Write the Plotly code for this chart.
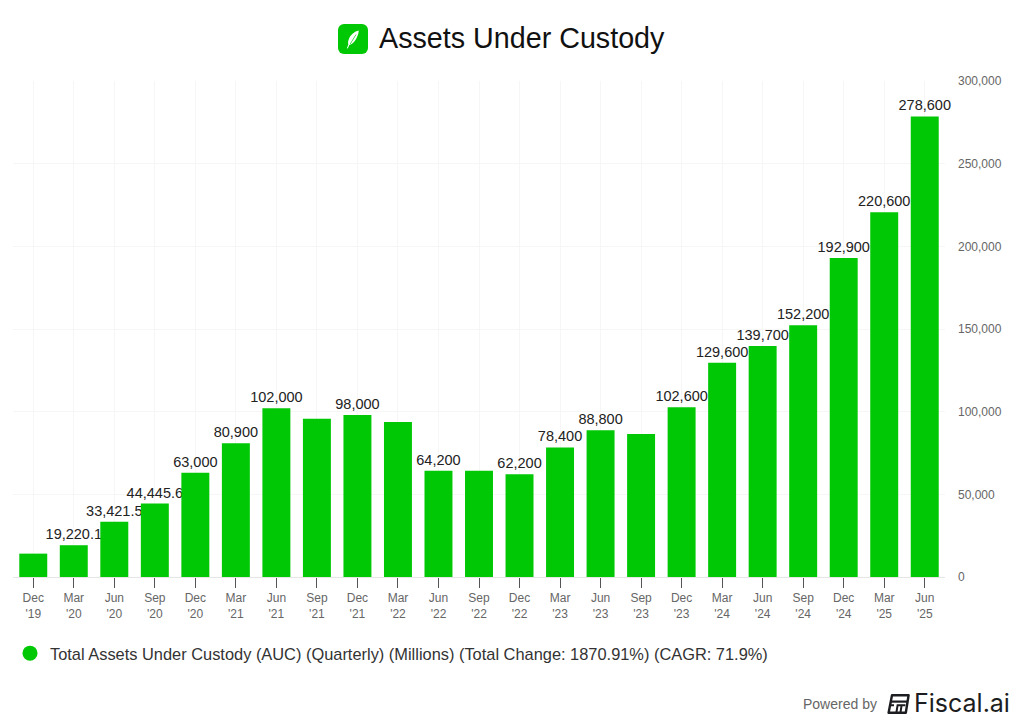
import base64
import plotly.graph_objects as go

OFF = 8  # browser page margin around the figure
W, H = 1024 - 2 * OFF, 725 - 2 * OFF
L, R, T, B = 13, 945, 81, 577

categories = ["Dec<br>'19", "Mar<br>'20", "Jun<br>'20", "Sep<br>'20", "Dec<br>'20", "Mar<br>'21", "Jun<br>'21", "Sep<br>'21",
              "Dec<br>'21", "Mar<br>'22", "Jun<br>'22", "Sep<br>'22", "Dec<br>'22", "Mar<br>'23", "Jun<br>'23", "Sep<br>'23",
              "Dec<br>'23", "Mar<br>'24", "Jun<br>'24", "Sep<br>'24", "Dec<br>'24", "Mar<br>'25", "Jun<br>'25"]
auc_values = [14136, 19220.1, 33421.5, 44445.6, 63000, 80900, 102000, 95700,
              98000, 93700, 64200, 64300, 62200, 78400, 88800, 86500,
              102600, 129600, 139700, 152200, 192900, 220600, 278600]
value_labels = ["", "19,220.1", "33,421.5", "44,445.6", "63,000", "80,900", "102,000", "",
                "98,000", "", "64,200", "", "62,200", "78,400", "88,800", "",
                "102,600", "129,600", "139,700", "152,200", "192,900", "220,600", "278,600"]
y_ticks = [0, 50000, 100000, 150000, 200000, 250000, 300000]
y_tick_labels = ["0", "50,000", "100,000", "150,000", "200,000", "250,000", "300,000"]
series_name = "Total Assets Under Custody (AUC) (Quarterly) (Millions) (Total Change: 1870.91%) (CAGR: 71.9%)"
GREEN = "#00c805"
FONT = "Liberation Sans, Arial, sans-serif"


def uri(svg):
    return "data:image/svg+xml;base64," + base64.b64encode(svg.encode()).decode()


def px(x):
    return (x - OFF) / W


def py(y):
    return 1 - (y - OFF) / H


robinhood_logo = uri(
    '<svg xmlns="http://www.w3.org/2000/svg" width="120" height="120" viewBox="0 0 30 30">'
    '<rect width="30" height="30" rx="6" fill="#00c805"/>'
    '<path d="M20.8 6.6C16.6 7.4 12.6 10.8 10.8 15.2C10 17.2 9.8 19 10.4 20.2L8.9 24.3L9.8 24.6L11.3 20.9'
    'C13 20.8 14.9 19.6 16.4 17.6C18.9 14.3 20.6 10.2 20.8 6.6Z" fill="#fff"/>'
    '<path d="M18 10.5L12.2 20" stroke="#00c805" stroke-width="0.7"/></svg>')

fiscal_logo = uri(
    '<svg xmlns="http://www.w3.org/2000/svg" width="92" height="80" viewBox="0 0 23 20">'
    '<path d="M5 1.2H21.6L18.8 18.8H1.6Z" fill="none" stroke="#1c1d21" stroke-width="2.4" stroke-linejoin="round"/>'
    '<path d="M3.8 7.6H20.4" stroke="#1c1d21" stroke-width="2.2"/>'
    '<path d="M9.4 18.5L10.6 11.2H18.4M14.6 11.2L13.5 18.5M4 11.2H7" stroke="#1c1d21" stroke-width="2" fill="none"/>'
    '</svg>')

fig = go.Figure()
fig.add_trace(go.Bar(
    x=categories, y=auc_values, text=value_labels, textposition="outside", texttemplate="%{text}",
    textangle=0, cliponaxis=False, constraintext="none",
    textfont=dict(family=FONT, size=14.5, color="#222222"),
    marker=dict(color=GREEN, line=dict(width=4, color="rgba(0,200,5,0)")), showlegend=False, hoverinfo="x+y"))
fig.add_trace(go.Scatter(
    x=[categories[0]], y=[None], mode="markers", name=series_name,
    marker=dict(symbol="circle", size=15, color=GREEN), showlegend=True))

fig.update_layout(
    width=W, height=H, autosize=False,
    margin=dict(l=0, r=0, t=0, b=0, pad=0),
    paper_bgcolor="white", plot_bgcolor="white", bargap=0.31,
    font=dict(family=FONT, color="#666666", size=12),
    legend=dict(x=px(10), y=py(636), xanchor="left", yanchor="top", bgcolor="rgba(0,0,0,0)",
                font=dict(family=FONT, size=16.4, color="#333333"), itemwidth=30),
    xaxis=dict(type="category", categoryorder="array", categoryarray=categories, tickmode="array", tickvals=categories,
               domain=[px(L), px(R)], range=[-0.5, 22.5], automargin=False,
               ticktext=categories, tickangle=0, ticks="outside", ticklen=10, tickwidth=1, tickcolor="#555555",
               tickfont=dict(family=FONT, size=12, color="#666666"), showgrid=True, gridcolor="#f6f6f6", gridwidth=1,
               showline=True, linecolor="#e6e6e6", linewidth=1, zeroline=False, fixedrange=True),
    yaxis=dict(side="right", range=[0, 300000], domain=[py(B), py(T)], tickmode="array", tickvals=y_ticks,
               ticktext=y_tick_labels, ticklabelstandoff=12, automargin=False,
               tickfont=dict(family=FONT, size=12, color="#666666"), ticks="", showgrid=True, gridcolor="#f6f6f6",
               gridwidth=1, zeroline=False, showline=False, fixedrange=True),
    annotations=[
        dict(text="Assets Under Custody", xref="paper", yref="paper", x=px(377), y=py(38), xanchor="left",
             yanchor="middle", showarrow=False, font=dict(family=FONT, size=28.7, color="#111111")),
        dict(text="Powered by", xref="paper", yref="paper", x=px(879), y=py(704), xanchor="right",
             yanchor="middle", showarrow=False, font=dict(family=FONT, size=14, color="#666666")),
        dict(text="Fiscal.ai", xref="paper", yref="paper", x=px(1012), y=py(703), xanchor="right",
             yanchor="middle", showarrow=False, font=dict(family="Inter, sans-serif", size=25, color="#1c1d21")),
    ],
    images=[
        dict(source=robinhood_logo, xref="paper", yref="paper", x=px(338), y=py(24), sizex=30 / W,
             sizey=30 / H, xanchor="left", yanchor="top", sizing="stretch", layer="above"),
        dict(source=fiscal_logo, xref="paper", yref="paper", x=px(887), y=py(694), sizex=23 / W,
             sizey=20 / H, xanchor="left", yanchor="top", sizing="stretch", layer="above"),
    ],
)
fig.write_html("out.html")
